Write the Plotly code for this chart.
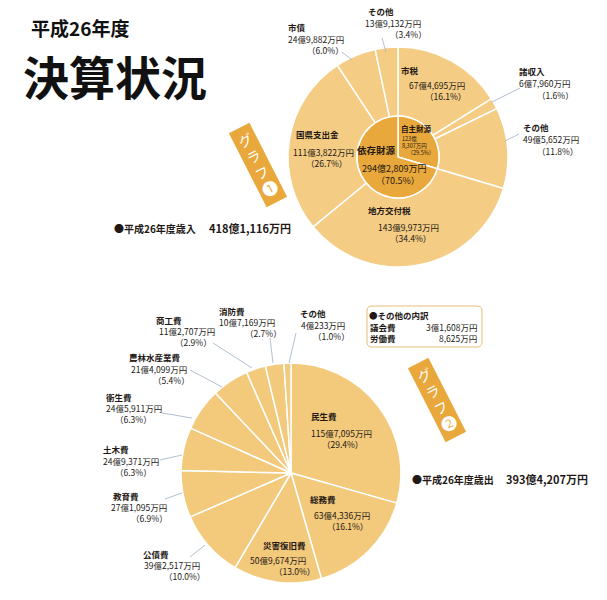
import plotly.graph_objects as go

W, H = 607, 600

# 歳入 (単位: 万円)
rev_inner_names = ["自主財源", "依存財源"]
rev_inner_values = [1238307, 2942809]
rev_inner_pcts = [29.5, 70.5]

rev_names = ["市税", "諸収入", "その他", "地方交付税", "国県支出金", "市債", "その他"]
rev_values = [674695, 67960, 495652, 1439973, 1113822, 249882, 139132]
rev_pcts = [16.1, 1.6, 11.8, 34.4, 26.7, 6.0, 3.4]

# 歳出 (単位: 万円)
exp_names = ["民生費", "総務費", "災害復旧費", "公債費", "教育費", "土木費",
             "衛生費", "農林水産業費", "商工費", "消防費", "その他"]
exp_values = [1157095, 634336, 509674, 392517, 271095, 249371,
              245911, 214099, 112707, 107169, 40233]
exp_pcts = [29.4, 16.1, 13.0, 10.0, 6.9, 6.3, 6.3, 5.4, 2.9, 2.7, 1.0]

# その他の内訳
other_names = ["議会費", "労働費"]
other_values = [31608, 8625]

FONT = "Noto Sans CJK JP"
INK = "#231815"
LIGHT = "#F4CC84"
DARK = "#E9A83B"
LEADER = "#9DB0C4"


def px(x):
    return x / W


def py(y):
    return 1 - y / H


def yen(v):
    oku, man = divmod(v, 10000)
    return f"{oku}億{man:,}万円" if oku else f"{man:,}万円"


def pct(p):
    return f"（{p:.1f}%）"


annotations = []
shapes = []


def txt(x, y, s, size=9, anchor="left", color=INK, **kw):
    kw.setdefault("borderpad", 0)
    annotations.append(dict(
        x=px(x), y=py(y), xref="paper", yref="paper", text=s, showarrow=False,
        xanchor=anchor, yanchor="middle",
        font=dict(family=FONT, size=size, color=color), **kw))


def leader(x0, y0, x1, y1):
    shapes.append(dict(type="line", xref="paper", yref="paper",
                       x0=px(x0), y0=py(y0), x1=px(x1), y1=py(y1),
                       line=dict(color=LEADER, width=0.8)))


def dom(cx, cy, r):
    return dict(x=[px(cx - r), px(cx + r)], y=[py(cy + r), py(cy - r)])


fig = go.Figure()

# グラフ1 歳入
fig.add_trace(go.Pie(
    values=rev_values, hovertext=rev_names, hoverinfo="text+value",
    sort=False, direction="clockwise", rotation=0, hole=41 / 110,
    marker=dict(colors=[LIGHT] * len(rev_values), line=dict(color="white", width=1.5)),
    textinfo="none", domain=dom(398, 157, 110)))
fig.add_trace(go.Pie(
    values=rev_inner_values, hovertext=rev_inner_names, hoverinfo="text+value",
    sort=False, direction="clockwise", rotation=0,
    marker=dict(colors=[DARK] * 2, line=dict(color="white", width=1.5)),
    textinfo="none", domain=dom(398, 157, 41)))

# グラフ2 歳出
fig.add_trace(go.Pie(
    values=exp_values, hovertext=exp_names, hoverinfo="text+value",
    sort=False, direction="clockwise", rotation=0,
    marker=dict(colors=["#F3C97B"] * len(exp_values), line=dict(color="white", width=1.5)),
    textinfo="none", domain=dom(291, 473, 110)))

# title
txt(30, 27, "<b>平成26年度</b>", size=19, color="#111")
txt(22, 75, "<b>決算状況</b>", size=46, color="#111")

# badges
badge = "グ<br>ラ<br>フ<br><span style='font-size:16px'>{}</span>"
txt(258, 165, badge.format("❶"), size=14, anchor="center", color="white",
    textangle=-27, bgcolor=DARK, borderpad=3)
txt(437, 400, badge.format("❷"), size=14, anchor="center", color="white",
    textangle=-27, bgcolor=DARK, borderpad=3)

# totals
txt(113, 228, "<b>●平成26年度歳入</b>", size=10)
txt(208, 228, f"<b>{yen(sum(rev_values))}</b>", size=11)
txt(411, 479, "<b>●平成26年度歳出</b>", size=10)
txt(505, 479, f"<b>{yen(sum(exp_values))}</b>", size=11)

# 歳入 labels: name(x, y), value(x, y), pct right edge(x, y)
rev_pos = [
    (400, 70, 408, 85, 467, 96),
    (518, 71, 518, 83, 575, 95),
    (522, 127, 522, 139, 579, 151),
    (367, 210, 377, 227, 432, 238),
    (295, 134, 292, 152, 348, 163),
    (287, 27, 287, 39, 345, 50),
    (367, 11, 364, 23, 428, 34),
]
for name, v, p, (nx, ny, vx, vy, qx, qy) in zip(rev_names, rev_values, rev_pcts, rev_pos):
    txt(nx, ny, f"<b>{name}</b>", size=8.5)
    txt(vx, vy, yen(v), size=8.5)
    txt(qx, qy, pct(p), size=8.5, anchor="right")

# inner labels
oku, man = divmod(rev_inner_values[0], 10000)
txt(400, 128, f"<b>{rev_inner_names[0]}</b>", size=7.5)
txt(401, 146, f"{oku}億<br>{man:,}万円<br>\u2002\u2002{pct(rev_inner_pcts[0])}", size=5.5,
    align="left")
txt(356, 150, f"<b>{rev_inner_names[1]}</b>", size=9.5)
txt(361, 168, yen(rev_inner_values[1]), size=9)
txt(421, 180, pct(rev_inner_pcts[1]), size=9, anchor="right")

leader(382, 38, 386, 52)
leader(342, 52, 352, 60)
leader(520, 88, 492, 102)
leader(519, 134, 505, 141)

# 歳出 labels
exp_pos = [
    (310, 416, 310, 433, 364, 444),
    (309, 499, 313, 515, 369, 526),
    (262, 545, 249, 560, 316, 571),
    (142, 554, 143, 565, 206, 576),
    (112, 496, 110, 507, 169, 518),
    (102, 449, 102, 461, 153, 472),
    (105, 397, 105, 408, 153, 419),
    (128, 357, 130, 369, 191, 380),
    (155, 320, 158, 331, 213, 342),
    (218, 311, 218, 322, 283, 333),
    (299, 313, 300, 325, 351, 336),
]
for name, v, p, (nx, ny, vx, vy, qx, qy) in zip(exp_names, exp_values, exp_pcts, exp_pos):
    txt(nx, ny, f"<b>{name}</b>", size=8.5)
    txt(vx, vy, yen(v), size=8.5)
    txt(qx, qy, pct(p), size=8.5, anchor="right")

leader(213, 343, 252, 368)
leader(270, 338, 273, 363)
leader(296, 333, 289, 363)
leader(190, 370, 222, 387)
leader(162, 413, 192, 418)
leader(160, 460, 182, 455)
leader(165, 499, 182, 493)
leader(190, 557, 205, 545)

# その他の内訳 box
x0, y0, x1, y1, r = px(367), py(347), px(482), py(306), 5
rx, ry = r / W, r / H
shapes.append(dict(
    type="path", xref="paper", yref="paper",
    path=(f"M {x0 + rx} {y0} L {x1 - rx} {y0} Q {x1} {y0} {x1} {y0 + ry} "
          f"L {x1} {y1 - ry} Q {x1} {y1} {x1 - rx} {y1} L {x0 + rx} {y1} "
          f"Q {x0} {y1} {x0} {y1 - ry} L {x0} {y0 + ry} Q {x0} {y0} {x0 + rx} {y0} Z"),
    line=dict(color="#E6BE78", width=1)))
txt(368, 315, "<b>●その他の内訳</b>", size=8.5)
for i, (name, v) in enumerate(zip(other_names, other_values)):
    txt(369, 327 + 11 * i, f"<b>{name}</b>", size=8.5)
    txt(478, 327 + 11 * i, yen(v), size=8.5, anchor="right")

fig.update_layout(
    width=W, height=H, margin=dict(l=0, r=0, t=0, b=0),
    paper_bgcolor="white", plot_bgcolor="white", showlegend=False,
    annotations=annotations, shapes=shapes)

# page body has a default 8px margin; drop it so the figure sits at 0,0
fig.write_html("out.html", config={"displayModeBar": False},
               post_script="document.body.style.margin='0';")
